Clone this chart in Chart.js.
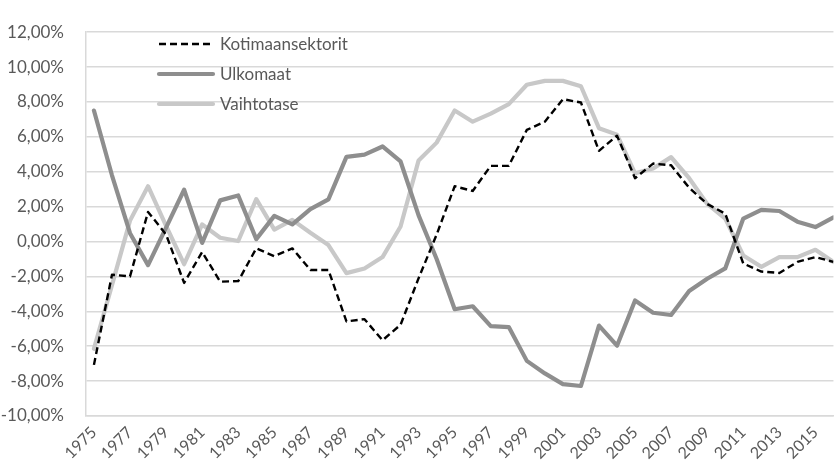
<!DOCTYPE html>
<html>
<head>
<meta charset="utf-8">
<script src="https://cdn.jsdelivr.net/npm/chart.js@4/dist/chart.umd.min.js"></script>
<style>
  html, body { margin: 0; padding: 0; background: #fff; }
  canvas { display: block; }
</style>
</head>
<body>
<canvas id="c" width="836" height="468"></canvas>
<script>
const years = [1975,1976,1977,1978,1979,1980,1981,1982,1983,1984,1985,1986,1987,1988,1989,1990,1991,1992,1993,1994,1995,1996,1997,1998,1999,2000,2001,2002,2003,2004,2005,2006,2007,2008,2009,2010,2011,2012,2013,2014,2015,2016];
const kotimaansektorit = [-7.07,-1.9,-2.0,1.7,0.4,-2.37,-0.6,-2.3,-2.27,-0.39,-0.84,-0.39,-1.63,-1.63,-4.58,-4.45,-5.66,-4.77,-2.1,0.4,3.17,2.9,4.34,4.34,6.4,6.87,8.16,7.97,5.2,6.07,3.63,4.47,4.37,3.08,2.15,1.6,-1.26,-1.72,-1.8,-1.17,-0.89,-1.17];
const ulkomaat = [7.51,3.8,0.48,-1.35,0.8,2.97,-0.08,2.36,2.64,0.14,1.47,0.98,1.86,2.42,4.85,4.98,5.45,4.59,1.5,-1.0,-3.88,-3.71,-4.85,-4.9,-6.84,-7.56,-8.17,-8.28,-4.82,-5.97,-3.38,-4.08,-4.21,-2.83,-2.13,-1.54,1.32,1.82,1.75,1.14,0.83,1.38];
const vaihtotase = [-6.15,-2.5,1.2,3.17,0.9,-1.3,0.98,0.22,0.03,2.43,0.68,1.24,0.5,-0.2,-1.81,-1.54,-0.89,0.86,4.65,5.67,7.51,6.87,7.33,7.88,8.99,9.21,9.21,8.9,6.5,6.13,3.91,4.19,4.84,3.63,2.16,1.32,-0.8,-1.45,-0.89,-0.89,-0.47,-1.17];
const tickYears = [1975,1977,1979,1981,1983,1985,1987,1989,1991,1993,1995,1997,1999,2001,2003,2005,2007,2009,2011,2013,2015];
const seriesNames = ["Kotimaansektorit","Ulkomaat","Vaihtotase"];

const FONT = "Lato, 'Open Sans', sans-serif";
const TEXT = "#595959";
const GRID = "#d9d9d9";

const pts = arr => years.map((y, i) => ({ x: y, y: arr[i] }));

const legendPlugin = {
  id: 'insideLegend',
  afterDatasetsDraw(chart) {
    const ctx = chart.ctx;
    const x0 = 159, x1 = 213, tx = 220;
    const rows = [44, 74, 104];
    chart.data.datasets.forEach((ds, i) => {
      const y = rows[i];
      ctx.save();
      ctx.strokeStyle = ds.borderColor;
      ctx.lineWidth = ds.borderWidth;
      ctx.lineCap = ds.borderDash && ds.borderDash.length ? 'butt' : 'round';
      ctx.setLineDash(ds.borderDash || []);
      ctx.beginPath();
      ctx.moveTo(x0, y);
      ctx.lineTo(x1, y);
      ctx.stroke();
      ctx.setLineDash([]);
      ctx.fillStyle = TEXT;
      ctx.font = "17px " + FONT;
      ctx.textBaseline = 'middle';
      ctx.textAlign = 'left';
      ctx.fillText(ds.label, tx, y + 1);
      ctx.restore();
    });
  }
};

new Chart(document.getElementById('c'), {
  type: 'line',
  data: {
    datasets: [
      { label: seriesNames[0], data: pts(kotimaansektorit), borderColor: '#000000', borderWidth: 2.4, borderDash: [7, 4], pointRadius: 0, tension: 0, borderJoinStyle: 'round' },
      { label: seriesNames[1], data: pts(ulkomaat), borderColor: '#8e8e8e', borderWidth: 4.2, pointRadius: 0, tension: 0, borderJoinStyle: 'round', borderCapStyle: 'round' },
      { label: seriesNames[2], data: pts(vaihtotase), borderColor: '#c8c8c8', borderWidth: 4.2, pointRadius: 0, tension: 0, borderJoinStyle: 'round', borderCapStyle: 'round' }
    ]
  },
  options: {
    responsive: false,
    animation: false,
    layout: { padding: { top: 19, right: 0, bottom: 0, left: 0 } },
    plugins: { legend: { display: false }, tooltip: { enabled: false } },
    scales: {
      x: {
        type: 'linear',
        min: 1974.56,
        max: 2016,
        afterBuildTicks: s => { s.ticks = tickYears.map(v => ({ value: v })); },
        afterFit: s => { s.height = 52; },
        grid: { display: false, drawTicks: false },
        border: { display: true, color: GRID, width: 1.5 },
        ticks: {
          autoSkip: false,
          minRotation: 45, maxRotation: 45,
          padding: 7,
          color: TEXT,
          font: { family: FONT, size: 16 },
          callback: v => String(v)
        }
      },
      y: {
        min: -10, max: 12,
        afterFit: s => { s.width = 86; },
        grid: { color: GRID, lineWidth: 1.5, drawTicks: false },
        border: { display: true, color: GRID, width: 1.5 },
        ticks: {
          stepSize: 2,
          padding: 22,
          color: TEXT,
          font: { family: FONT, size: 17 },
          callback: v => v.toFixed(2).replace('.', ',') + '%'
        }
      }
    }
  },
  plugins: [legendPlugin]
});
</script>
</body>
</html>
